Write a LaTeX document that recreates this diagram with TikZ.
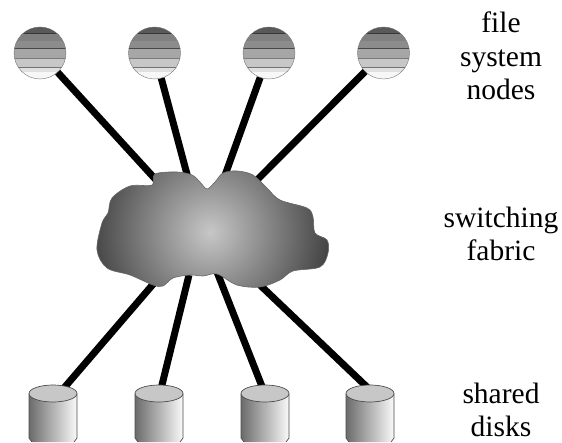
\documentclass[tikz,border=0pt]{standalone}
\usepackage{fontspec}
\setmainfont{Liberation Serif}
\tikzset{
    fsnode/.style={circle, draw=black!55, minimum size=52pt, inner sep=0pt, path picture={
        \foreach \ya/\yb/\tone in {0/6/65, 6/7/78, 7/14/50, 14/21/45, 21/22/72, 22/31/35, 31/32/52, 32/40/22, 40/41/55, 41/45/12, 45/52/3}
            \fill[black!\tone] ([xshift=-30pt,yshift={26pt-\ya pt}]path picture bounding box.center) rectangle ([xshift=30pt,yshift={26pt-\yb pt}]path picture bounding box.center);
    }},
    link/.style={line width=7pt, black},
    fabric/.style={draw=black!60, line width=0.6pt, path picture={
        \shade[inner color=black!22, outer color=black!76] (210,232) circle (125);
    }},
    rim/.style={draw=black!70, line width=0.7pt},
    label/.style={font=\fontsize{29.5}{33.5}\selectfont, align=center}
}
\begin{document}
\begin{tikzpicture}[x=1pt, y=-1pt]

    \useasboundingbox (0,0) rectangle (562,443);

    % file system nodes
    \node[fsnode] (n1) at (40,53) {};
    \node[fsnode] (n2) at (154.5,53) {};
    \node[fsnode] (n3) at (269,53) {};
    \node[fsnode] (n4) at (383.5,53) {};

    % attachment points on the fabric
    \coordinate (f1) at (157,181);
    \coordinate (f2) at (188,178);
    \coordinate (f3) at (224,178);
    \coordinate (f4) at (256,181);
    \coordinate (f5) at (155,282);
    \coordinate (f6) at (189,275);
    \coordinate (f7) at (217,272);
    \coordinate (f8) at (260,285);

    % attachment points on the disks
    \coordinate (d1) at (64,388);
    \coordinate (d2) at (161,389);
    \coordinate (d3) at (263,389);
    \coordinate (d4) at (368,388);

    % links
    \draw[link] (n1) -- (f1);
    \draw[link] (n2) -- (f2);
    \draw[link] (n3) -- (f3);
    \draw[link] (n4) -- (f4);
    \draw[link] (f5) -- (d1);
    \draw[link] (f6) -- (d2);
    \draw[link] (f7) -- (d3);
    \draw[link] (f8) -- (d4);

    % switching fabric
    \draw[fabric] plot[smooth cycle, tension=0.55] coordinates {
        (155,174) (177,172) (192,175) (200,182) (207,189) (215,182) (223,173)
        (237,171) (253,175) (267,188) (280,200) (307,208) (313,217) (315,233)
        (327,240) (328,253) (320,267) (293,271) (280,280) (260,287) (237,285)
        (217,274) (203,276) (190,275) (173,278) (163,286) (153,285) (130,275)
        (107,268) (97,250) (102,223) (108,213) (112,198) (130,186) (152,185)};

    % shared disks
    \foreach \x in {53,159,265,370} {
        \path[left color=black!58, right color=black!2]
            (\x-24,394) -- (\x-24,438) -- (\x-21,442) -- (\x+21,442) -- (\x+24,438) -- (\x+24,394) -- cycle;
        \draw[rim] (\x-21,442) -- (\x-24,438) -- (\x-24,394);
        \draw[rim] (\x+21,442) -- (\x+24,438) -- (\x+24,394);
        \draw[rim, fill=black!22] (\x,393.5) ellipse (24 and 8.5);
    }

    % labels
    \node[label] (l1) at (501,56) {file\\system\\nodes};
    \node[label] (l2) at (501,234) {switching\\fabric};
    \node[label] (l3) at (501,410) {shared\\disks};

\end{tikzpicture}
\end{document}
